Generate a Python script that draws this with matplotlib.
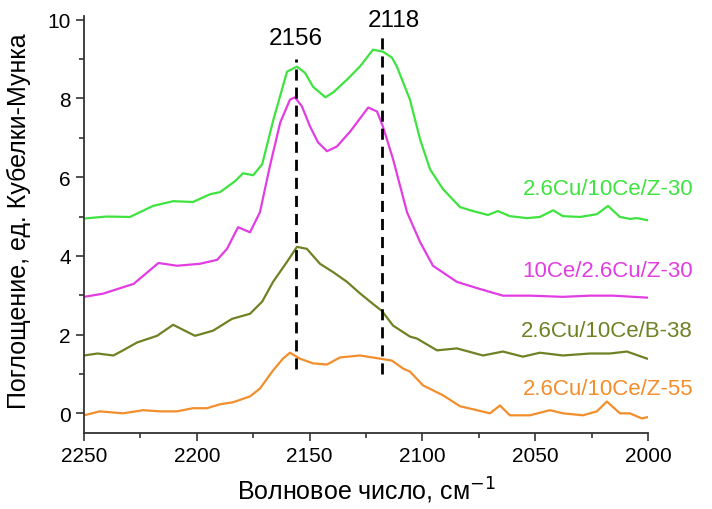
import matplotlib
matplotlib.use("Agg")
import matplotlib.pyplot as plt
from matplotlib.ticker import MultipleLocator

plt.rcParams['font.family'] = ['Liberation Sans', 'DejaVu Sans']

# Data (wavenumber, absorbance)
green_x = [2250, 2240, 2229.6, 2219.4, 2210.5, 2201.7, 2194, 2189.7, 2183, 2179.5, 2175, 2171, 2166, 2160, 2155.6,
           2152, 2148.5, 2143, 2139.6, 2133.4, 2127.7, 2121.9, 2117.5, 2113.5, 2111.3, 2105.5, 2101, 2096.6,
           2090.9, 2083.3, 2077.6, 2070.9, 2066.5, 2061.2, 2053.6, 2047.9, 2042, 2037.7, 2030, 2022.6,
           2017.7, 2012.4, 2008, 2004.9, 2000.4]
green_y = [4.95, 5.0, 4.99, 5.27, 5.39, 5.37, 5.57, 5.62, 5.9, 6.10, 6.05, 6.33, 7.47, 8.68, 8.81,
           8.65, 8.3, 8.03, 8.15, 8.48, 8.81, 9.24, 9.19, 9.04, 8.81, 7.97, 6.96, 6.2,
           5.7, 5.24, 5.14, 5.04, 5.14, 5.01, 4.96, 4.99, 5.16, 5.01, 4.99, 5.06,
           5.27, 4.99, 4.94, 4.96, 4.91]

magenta_x = [2250, 2241.6, 2228, 2217, 2208.8, 2198.6, 2191, 2186.6, 2181.7, 2176.4, 2172, 2167.6, 2163,
             2158.7, 2156.5, 2153.4, 2149.8, 2146.3, 2142.3, 2137.9, 2132, 2124, 2120.1, 2117.5, 2113,
             2106.8, 2101, 2095.3, 2084.7, 2074.5, 2064.3, 2052.3, 2037.7, 2025.7, 2015.5, 2000.4]
magenta_y = [2.96, 3.04, 3.29, 3.82, 3.75, 3.8, 3.9, 4.18, 4.73, 4.6, 5.11, 6.28, 7.39,
             7.97, 8.03, 7.8, 7.29, 6.89, 6.66, 6.78, 7.16, 7.77, 7.67, 7.29, 6.46,
             5.11, 4.35, 3.75, 3.34, 3.16, 2.99, 2.99, 2.96, 2.99, 2.99, 2.94]

olive_x = [2250, 2244, 2237, 2232.7, 2226.5, 2217.6, 2210.5, 2200.8, 2192.8, 2184.4, 2176.4, 2171, 2166.2,
           2160, 2155.6, 2151.2, 2145.4, 2139.6, 2133.4, 2127.7, 2121.9, 2117.9, 2113, 2105.5, 2102.4,
           2093.5, 2084.7, 2073.1, 2064.3, 2055.4, 2047.9, 2037.7, 2025.7, 2016.9, 2009.3, 2000.4]
olive_y = [1.47, 1.52, 1.47, 1.6, 1.8, 1.97, 2.25, 1.97, 2.1, 2.4, 2.53, 2.84, 3.34,
           3.85, 4.23, 4.18, 3.8, 3.59, 3.34, 3.05, 2.78, 2.6, 2.23, 1.95, 1.9,
           1.6, 1.65, 1.47, 1.57, 1.44, 1.54, 1.47, 1.52, 1.52, 1.57, 1.39]

orange_x = [2250, 2243, 2232.7, 2223.8, 2216.3, 2208.8, 2201.7, 2195.5, 2189.7, 2184, 2176.4, 2172, 2166.2,
            2161.8, 2158.7, 2154.3, 2148.5, 2142.3, 2136.5, 2127.7, 2118.8, 2113.5, 2108.6, 2105.5,
            2099.7, 2090.9, 2083.3, 2075.8, 2070, 2065.6, 2061.2, 2052.3, 2043.4, 2037.7, 2028.8,
            2022.6, 2018.2, 2012.4, 2008, 2002.7, 2000.4]
orange_y = [-0.05, 0.05, 0.0, 0.08, 0.05, 0.05, 0.13, 0.13, 0.23, 0.28, 0.43, 0.63, 1.09,
            1.39, 1.54, 1.39, 1.27, 1.24, 1.42, 1.47, 1.39, 1.34, 1.14, 1.06,
            0.71, 0.46, 0.18, 0.08, 0.0, 0.2, -0.05, -0.05, 0.08, 0.0, -0.05,
            0.05, 0.3, 0.0, 0.0, -0.13, -0.1]

labels = ["2.6Cu/10Ce/Z-30", "10Ce/2.6Cu/Z-30", "2.6Cu/10Ce/B-38", "2.6Cu/10Ce/Z-55"]
label_y = [5.72, 3.62, 2.1, 0.63]
colors = ["#3FE33F", "#E23DE2", "#6E8224", "#F28E2C"]

peaks = [2156, 2118]
peak_top = [9.0, 9.62]
peak_bot = [1.12, 1.0]

fig = plt.figure(figsize=(7.12, 5.10), dpi=100)
ax = fig.add_axes([0.118, 0.149, 0.792, 0.818])

series = [(green_x, green_y), (magenta_x, magenta_y), (olive_x, olive_y), (orange_x, orange_y)]
for (xs, ys), c in zip(series, colors):
    ax.plot(xs, ys, color=c, lw=1.6, solid_joinstyle='round')

for p, t, b in zip(peaks, peak_top, peak_bot):
    ax.plot([p, p], [b, t], color='black', lw=2.0, dashes=(4, 2.5))

ax.text(2156, 9.25, "2156", ha='center', va='bottom', fontsize=17.5)
ax.text(2112.5, 9.72, "2118", ha='center', va='bottom', fontsize=17.5)

for lab, ly, c in zip(labels, label_y, colors):
    ax.text(1980, ly, lab, ha='right', va='center', fontsize=16, color=c, clip_on=False)

ax.set_xlim(2250, 2000)
ax.set_ylim(-0.5, 10.1)
ax.xaxis.set_major_locator(MultipleLocator(50))
ax.xaxis.set_minor_locator(MultipleLocator(25))
ax.yaxis.set_major_locator(MultipleLocator(2))
ax.yaxis.set_minor_locator(MultipleLocator(1))
ax.spines['top'].set_visible(False)
ax.spines['right'].set_visible(False)
for s in ['left', 'bottom']:
    ax.spines[s].set_linewidth(1.3)
    ax.spines[s].set_color('#333333')
ax.tick_params(which='major', direction='out', length=6, width=1.2, labelsize=15, colors='#333333', labelcolor='black')
ax.tick_params(which='minor', direction='out', length=3.5, width=1.2, colors='#333333')

ax.set_xlabel("Волновое число, см$^{-1}$", fontsize=18)
ax.set_ylabel("Поглощение, ед. Кубелки-Мунка", fontsize=18)
ax.xaxis.set_label_coords(0.5, -0.1)
ax.yaxis.set_label_coords(-0.115, 0.51)
ax.xaxis.label.set_verticalalignment('top')
ax.yaxis.label.set_verticalalignment('center')

fig.savefig("out.png", dpi=100)
